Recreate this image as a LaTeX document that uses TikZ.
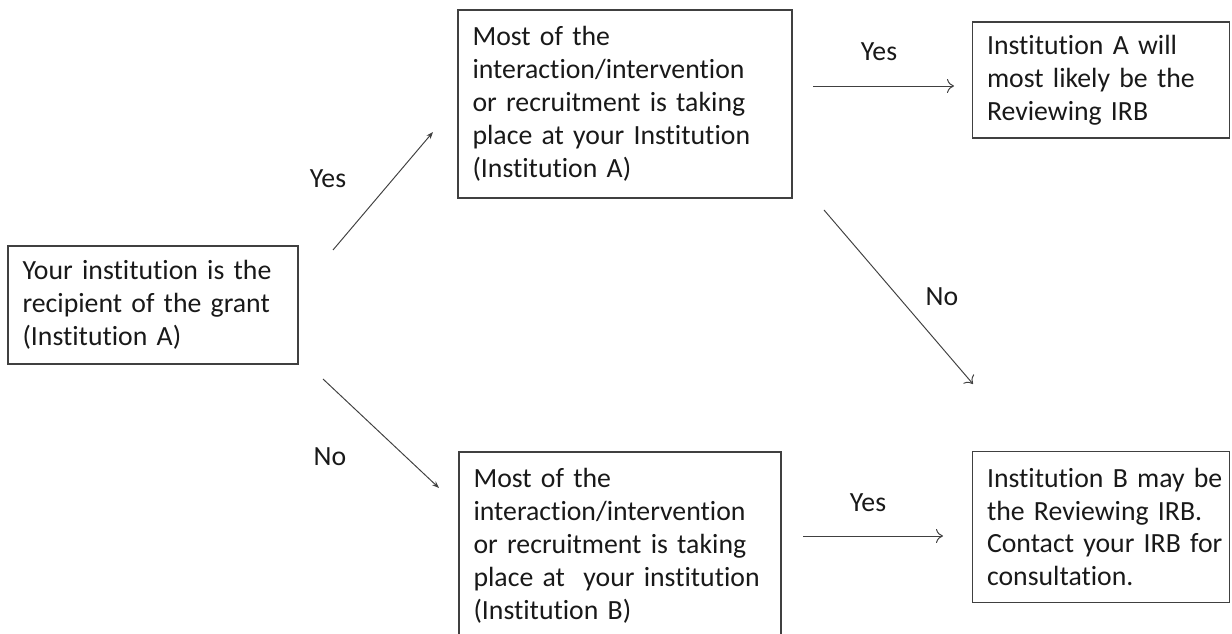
\documentclass[tikz,border=0pt]{standalone}
\usepackage{fontspec}
\setmainfont{Carlito}[Ligatures=NoCommon]
\usetikzlibrary{arrows.meta}
\tikzset{
  box/.style={draw=black!75, line width=0.7pt, align=left, inner xsep=0.29cm, inner ysep=0pt,
    font=\fontsize{15.8}{18.7}\selectfont, text=black!90,
    execute at begin node={\rightskip=0pt plus 1fil minus 1cm}},
  arr/.style={draw=black!75, line width=0.55pt, -{To[length=4pt,width=8pt]}},
  arrs/.style={draw=black!75, line width=0.55pt, -{Stealth[length=4pt,width=3pt]}},
  lbl/.style={font=\fontsize{15.8}{18}\selectfont, text=black!90},
}
\begin{document}
\begin{tikzpicture}[x=0.02cm,y=-0.02cm]
\useasboundingbox (0,0) rectangle (1232,634);
% boxes
\node[box, text width=5.22cm, minimum height=2.36cm] (1) at (153,305) {Your institution is the\\recipient of the grant\\(Institution A)};
\node[box, text width=6.1cm, minimum height=3.76cm] (2) at (625,104) {Most of the\\interaction/intervention\\or recruitment is taking\\place at your Institution\\(Institution A)};
\node[box, text width=5.86cm, minimum height=3.76cm] (3) at (620,546) {Most of the\\interaction/intervention\\or recruitment is taking\\place at\ \ your institution\\(Institution B)};
\node[box, text width=4.56cm, minimum height=2.32cm] (4) at (1101,80) {Institution A will\\most likely be the\\Reviewing IRB};
\node[box, text width=4.56cm, minimum height=3.02cm] (5) at (1101,527) {Institution B may be\\the Reviewing IRB.\\Contact your IRB for\\consultation.};
% arrow ends
\coordinate (a1) at (333,250); \coordinate (a2) at (433,132);
\coordinate (b1) at (323,379); \coordinate (b2) at (439,488);
\coordinate (c1) at (813,86);  \coordinate (c2) at (954,86);
\coordinate (d1) at (824,210); \coordinate (d2) at (973,384);
\coordinate (e1) at (803,536); \coordinate (e2) at (943,536);
\path[arrs] (a1) -- (a2);
\path[arrs] (b1) -- (b2);
\path[arr] (c1) -- (c2);
\path[arr] (d1) -- (d2);
\path[arr] (e1) -- (e2);
% labels
\node[lbl] (y1) at (328,179) {Yes};
\node[lbl] (n1) at (330,457) {No};
\node[lbl] (y2) at (879,52) {Yes};
\node[lbl] (n2) at (942,297) {No};
\node[lbl] (y3) at (868,503) {Yes};
\end{tikzpicture}
\end{document}
